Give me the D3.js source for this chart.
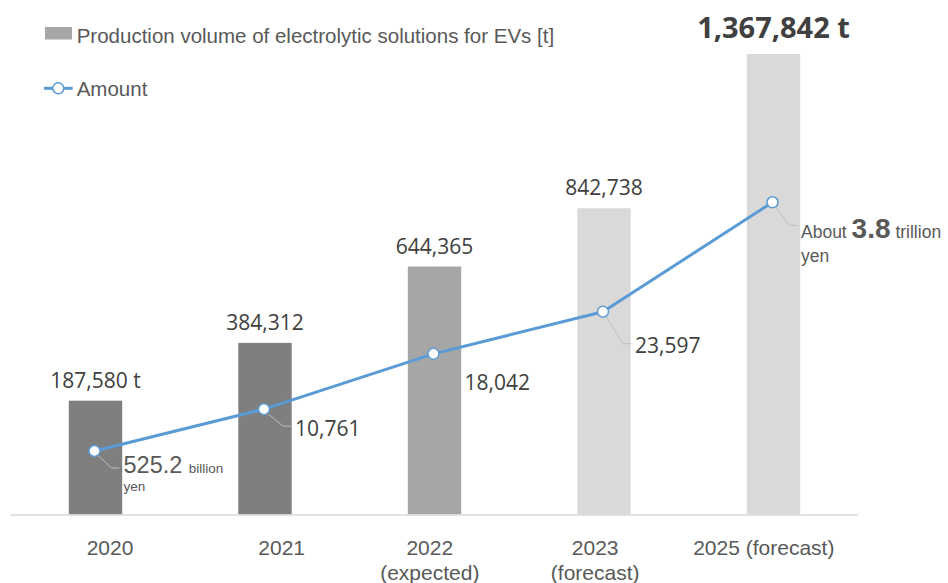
<!DOCTYPE html>
<html>
<head>
<meta charset="utf-8">
<script src="https://cdn.jsdelivr.net/npm/d3@7"></script>
<style>
  html, body { margin: 0; padding: 0; background: #ffffff; }
  svg { display: block; }
</style>
</head>
<body>
<svg id="chart" width="948" height="583"></svg>
<script>
// ---- data ----
const years = ["2020", "2021", "2022", "2023", "2025"];
const yearLabels = [["2020"], ["2021"], ["2022", "(expected)"], ["2023", "(forecast)"], ["2025 (forecast)"]];
const status = ["actual", "actual", "expected", "forecast", "forecast"];
// production volume of electrolytic solutions for EVs, tonnes
const volumes = [187580, 384312, 644365, 842738, 1367842];
const volumeLabels = ["187,580 t", "384,312", "644,365", "842,738", "1,367,842 t"];
// market amount, 100 million yen
const amounts = [5252, 10761, 18042, 23597, 38000];
const amountLabels = ["525.2 billion yen", "10,761", "18,042", "23,597", "About 3.8 trillion yen"];

// ---- look ----
const shade = { actual: "#7f7f7f", expected: "#a6a6a6", forecast: "#d9d9d9" };
const lineBlue = "#5b9bd5";
const sansA = "'Liberation Sans', Arial, sans-serif";
const sansC = "'Open Sans', sans-serif";

const svg = d3.select("#chart");

const x = d3.scaleBand()
  .domain(years)
  .range([10.75, 858.25])
  .paddingInner(0.685)
  .paddingOuter(0.3425);

// bars rise from the category axis; the primary scale runs below zero
const yBar = d3.scaleLinear().domain([-200000, 1400000]).range([514.5, 44.6]);
// secondary scale for the amount line
const yLine = d3.scaleLinear().domain([0, 40000]).range([490.9, 187.1]);

const base = yBar.range()[0];
const cx = i => x(years[i]) + x.bandwidth() / 2;

// bars
svg.append("g").selectAll("rect")
  .data(volumes)
  .join("rect")
  .attr("x", (d, i) => x(years[i]))
  .attr("width", x.bandwidth())
  .attr("y", d => yBar(d))
  .attr("height", d => base - yBar(d))
  .attr("fill", (d, i) => shade[status[i]]);

// category axis line
svg.append("line")
  .attr("x1", x.range()[0]).attr("x2", x.range()[1])
  .attr("y1", base + 0.5).attr("y2", base + 0.5)
  .attr("stroke", "#d9d9d9").attr("stroke-width", 1.5);

// bar value labels
const last = volumes.length - 1;
svg.append("g").selectAll("text")
  .data(volumes)
  .join("text")
  .attr("x", (d, i) => cx(i))
  .attr("y", (d, i) => yBar(d) - (i === last ? 16 : 13))
  .attr("text-anchor", "middle")
  .attr("font-family", sansC)
  .attr("font-size", (d, i) => i === last ? 29 : 21)
  .attr("font-weight", (d, i) => i === last ? 700 : 400)
  .attr("fill", "#404040")
  .text((d, i) => volumeLabels[i]);

// callout placement for the amount labels (offset from the point, leader height)
const callout = [
  { dx: 29, dy: 22, ly: 5 },
  { dx: 31, dy: 27, ly: 10 },
  { dx: 31, dy: 36, ly: null },
  { dx: 32, dy: 41, ly: 9 },
  { dx: 28.5, dy: 36, ly: 13 }
];

const pts = amounts.map((v, i) => ({ x: cx(i) - 1, y: yLine(v) }));

// leader lines
const leaders = svg.append("g");
pts.forEach((p, i) => {
  const c = callout[i];
  if (c.ly === null) return;
  const tx = p.x + c.dx, ty = p.y + c.dy;
  leaders.append("path")
    .attr("d", `M${p.x + 2},${p.y + 3}L${tx - 12},${ty - c.ly}L${tx - 4},${ty - c.ly}`)
    .attr("fill", "none")
    .attr("stroke", "#bfbfbf")
    .attr("stroke-width", 1);
});

// amount line
svg.append("path")
  .datum(amounts)
  .attr("d", d3.line().x((d, i) => pts[i].x).y(d => yLine(d)))
  .attr("fill", "none")
  .attr("stroke", lineBlue)
  .attr("stroke-width", 3)
  .attr("stroke-linejoin", "round");

svg.append("g").selectAll("circle")
  .data(amounts)
  .join("circle")
  .attr("cx", (d, i) => pts[i].x)
  .attr("cy", d => yLine(d))
  .attr("r", 5.5)
  .attr("fill", "#ffffff")
  .attr("stroke", lineBlue)
  .attr("stroke-width", 1.5);

// amount labels
const lab = svg.append("g");
pts.forEach((p, i) => {
  const c = callout[i];
  const tx = p.x + c.dx, ty = p.y + c.dy;
  if (i === 0) {
    const parts = amountLabels[i].split(" "); // 525.2 / billion / yen
    const t = lab.append("text").attr("x", tx).attr("y", ty)
      .attr("font-family", sansA).attr("fill", "#595959");
    t.append("tspan").attr("font-size", 23.5).text(parts[0] + " ");
    t.append("tspan").attr("font-size", 13.5).text(parts[1]);
    lab.append("text").attr("x", tx).attr("y", ty + 18.4)
      .attr("font-family", sansA).attr("font-size", 13.5).attr("fill", "#595959")
      .text(parts[2]);
  } else if (i === last) {
    const parts = amountLabels[i].split(" "); // About / 3.8 / trillion / yen
    const t = lab.append("text").attr("x", tx).attr("y", ty)
      .attr("font-family", sansA).attr("font-size", 17.5).attr("fill", "#595959");
    t.append("tspan").text(parts[0] + " ");
    t.append("tspan").attr("font-size", 28).attr("font-weight", 700).text(parts[1]);
    t.append("tspan").text(" " + parts[2]);
    lab.append("text").attr("x", tx).attr("y", ty + 23.4)
      .attr("font-family", sansA).attr("font-size", 17.5).attr("fill", "#595959")
      .text(parts[3]);
  } else {
    lab.append("text").attr("x", tx).attr("y", ty)
      .attr("font-family", sansC).attr("font-size", 21).attr("fill", "#404040")
      .text(amountLabels[i]);
  }
});

// category labels
const nudge = [14.5, 16.7, -4.7, -8.8, -9.7];
const ticks = svg.append("g")
  .attr("font-family", sansA).attr("font-size", 21).attr("fill", "#595959")
  .attr("text-anchor", "middle");
yearLabels.forEach((lines, i) => {
  const t = ticks.append("text").attr("x", cx(i) + nudge[i]).attr("y", base + 40.5);
  lines.forEach((s, k) => {
    t.append("tspan").attr("x", cx(i) + nudge[i]).attr("dy", k === 0 ? 0 : 25).text(s);
  });
});

// legend
const legend = svg.append("g").attr("font-family", sansA).attr("font-size", 20.5).attr("fill", "#595959");
legend.append("rect").attr("x", 45).attr("y", 27).attr("width", 27).attr("height", 12.5).attr("fill", shade.expected);
legend.append("text").attr("x", 76.7).attr("y", 43.3).text("Production volume of electrolytic solutions for EVs [t]");
legend.append("line").attr("x1", 44).attr("x2", 72.7).attr("y1", 88.3).attr("y2", 88.3)
  .attr("stroke", lineBlue).attr("stroke-width", 3);
legend.append("circle").attr("cx", 58.3).attr("cy", 88.3).attr("r", 5.5)
  .attr("fill", "#ffffff").attr("stroke", lineBlue).attr("stroke-width", 1.5);
legend.append("text").attr("x", 76.7).attr("y", 96).text("Amount");
</script>
</body>
</html>
